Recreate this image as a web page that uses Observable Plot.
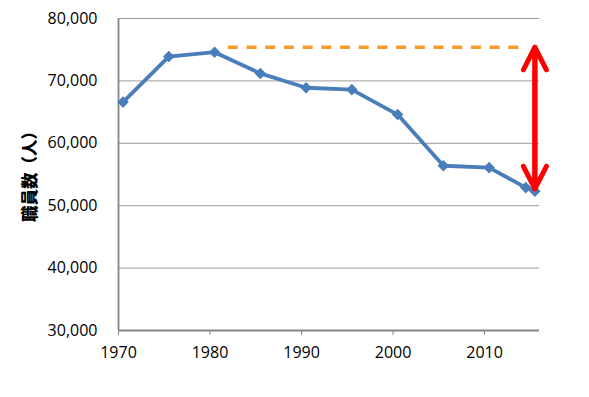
<!DOCTYPE html>
<html><head><meta charset="utf-8">
<script src="https://cdn.jsdelivr.net/npm/d3@7"></script>
<script src="https://cdn.jsdelivr.net/npm/@observablehq/plot@0.6"></script>
<style>
body{margin:0;background:#fff}
</style>
</head><body><div id="chart"></div>
<script>
const years = [1970, 1975, 1980, 1985, 1990, 1995, 2000, 2005, 2010, 2014, 2015];
const staff = [66600, 73900, 74600, 71200, 68900, 68600, 64600, 56400, 56100, 52900, 52300];
const xTicks = [1970, 1980, 1990, 2000, 2010];
const yTicks = [30000, 40000, 50000, 60000, 70000, 80000];
const xDomain = [1970, 2016];
const refFrom = 1982, refTo = 2014, refValue = 75400;
const gapYear = 2015, gapTop = 75400, gapBottom = 52700;
const yLabel = "職員数（人）";

const mid = y => new Date(Date.UTC(y, 6, 1));
const start = y => new Date(Date.UTC(y, 0, 1));
const data = years.map((y, i) => ({date: mid(y), value: staff[i]}));
const ref = [{x1: start(refFrom), x2: start(refTo), y: refValue}];
const gap = [{x: mid(gapYear), top: gapTop, bottom: gapBottom}];

const axisColor = "#868686";
const chart = Plot.plot({
  width: 589, height: 397,
  marginLeft: 118, marginRight: 50, marginTop: 18, marginBottom: 67,
  style: {fontFamily: "'Open Sans', sans-serif", fontSize: "16px", color: "#000", background: "#fff"},
  x: {type: "utc", domain: xDomain.map(start)},
  y: {domain: [yTicks[0], yTicks[yTicks.length - 1]]},
  marks: [
    Plot.ruleY(yTicks.slice(1), {stroke: "#9c9c9c", strokeWidth: 1}),
    Plot.ruleY([yTicks[0]], {stroke: axisColor, strokeWidth: 1.8}),
    Plot.ruleX([start(xDomain[0])], {stroke: axisColor, strokeWidth: 1.8}),
    Plot.axisY(yTicks, {tickSize: 0, tickPadding: 21, tickFormat: d3.format(","), label: null, fontSize: 16}),
    Plot.axisX(xTicks.map(start), {tickSize: 5, tickPadding: 11, stroke: axisColor, tickFormat: d3.utcFormat("%Y"), label: null, fontSize: 16}),
    Plot.text([yLabel], {frameAnchor: "left", textAnchor: "middle", dx: -88, dy: -2, rotate: -90, fontWeight: 900, fontSize: 16.5, fontFamily: "Noto Sans CJK JP"}),
    Plot.ruleY(ref, {x1: "x1", x2: "x2", y: "y", stroke: "#F79A2A", strokeWidth: 3.5, strokeDasharray: "10,8.7"}),
    Plot.line(data, {x: "date", y: "value", stroke: "#4A7EBB", strokeWidth: 3.8}),
    Plot.dot(data, {x: "date", y: "value", symbol: "diamond2", r: 5.2, fill: "#4A7EBB", stroke: "none"}),
    Plot.arrow(gap, {x1: "x", x2: "x", y1: "bottom", y2: "top", stroke: "#FF0000", strokeWidth: 5, headLength: 7.6, headAngle: 54}),
    Plot.arrow(gap, {x1: "x", x2: "x", y1: "top", y2: "bottom", stroke: "#FF0000", strokeWidth: 5, headLength: 7.6, headAngle: 54})
  ]
});
document.getElementById("chart").append(chart);
</script>
</body></html>
